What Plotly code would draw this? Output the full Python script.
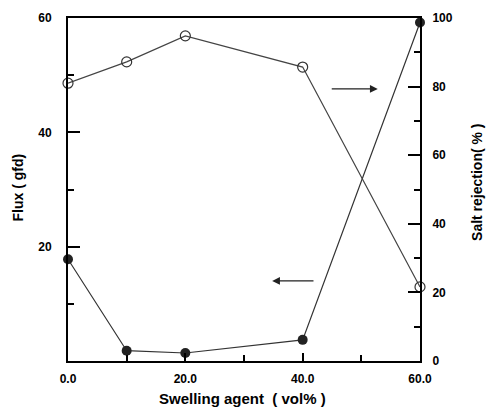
import plotly.graph_objects as go

swelling = [0, 10, 20, 40, 60]
flux = [17.8, 1.8, 1.4, 3.7, 59.2]
salt_rejection = [81.0, 87.2, 94.8, 85.7, 21.6]

x_ticks = [0, 20, 40, 60]
x_ticklabels = ["0.0", "20.0", "40.0", "60.0"]
flux_ticks = [20, 40, 60]
rej_ticks = [0, 20, 40, 60, 80, 100]

FONT = "Liberation Sans, Arial, sans-serif"

fig = go.Figure()
fig.add_trace(go.Scatter(
    x=swelling, y=flux, mode="lines+markers", yaxis="y",
    line=dict(color="#333333", width=1.2),
    marker=dict(symbol="circle", size=10, color="#222222"),
    showlegend=False, cliponaxis=False))
fig.add_trace(go.Scatter(
    x=swelling, y=salt_rejection, mode="lines+markers", yaxis="y2",
    line=dict(color="#444444", width=1.2),
    marker=dict(symbol="circle-open", size=10, color="#333333", line=dict(width=1.2)),
    showlegend=False, cliponaxis=False))

tickfont = dict(family=FONT, size=12, color="black", weight="bold")
minor = dict(dtick=10, ticks="inside", ticklen=6, tickcolor="black", tickwidth=2)
axis_common = dict(showgrid=False, zeroline=False, showline=True, linecolor="black",
                   linewidth=2, ticks="inside", tickcolor="black", tickwidth=2,
                   tickfont=tickfont, layer="above traces")

fig.update_layout(
    width=492, height=410,
    margin=dict(l=68, r=72, t=18, b=49),
    paper_bgcolor="white", plot_bgcolor="white",
    xaxis=dict(range=[0, 60], tickvals=x_ticks, ticktext=x_ticklabels,
               minor=minor, ticklen=8, mirror=True, ticklabelstandoff=6, **axis_common),
    yaxis=dict(range=[0, 60], tickvals=flux_ticks, ticklen=12, minor=minor,
               ticklabelstandoff=12, **axis_common),
    yaxis2=dict(range=[0, 100], tickvals=rej_ticks, ticklen=12, overlaying="y", side="right",
                minor=minor, ticklabelstandoff=8, **axis_common),
    annotations=[
        dict(text="<b>Flux ( gfd)</b>", xref="paper", yref="paper", x=-0.143, y=0.505,
             xanchor="center", yanchor="middle",
             textangle=-90, showarrow=False, font=dict(family=FONT, size=14, color="black")),
        dict(text="<b>Salt rejection( % )</b>", xref="paper", yref="paper", x=1.16, y=0.52,
             xanchor="center", yanchor="middle",
             textangle=-90, showarrow=False, font=dict(family=FONT, size=14, color="black")),
        dict(text="<b>Swelling agent  ( vol% )</b>", xref="paper", yref="paper", x=0.495, y=-0.108,
             xanchor="center", yanchor="middle",
             showarrow=False, font=dict(family=FONT, size=15, color="black")),
        dict(x=52.8, y=47.6, ax=44.7, ay=47.6, xref="x", yref="y", axref="x", ayref="y",
             text="", showarrow=True, arrowhead=2, arrowsize=1.2, arrowwidth=1.3, arrowcolor="#222222"),
        dict(x=34.8, y=14.0, ax=42.1, ay=14.0, xref="x", yref="y", axref="x", ayref="y",
             text="", showarrow=True, arrowhead=2, arrowsize=1.2, arrowwidth=1.3, arrowcolor="#222222"),
    ],
)

fig.write_html("out.html", config={"displayModeBar": False},
               post_script="document.body.style.margin='0';")
